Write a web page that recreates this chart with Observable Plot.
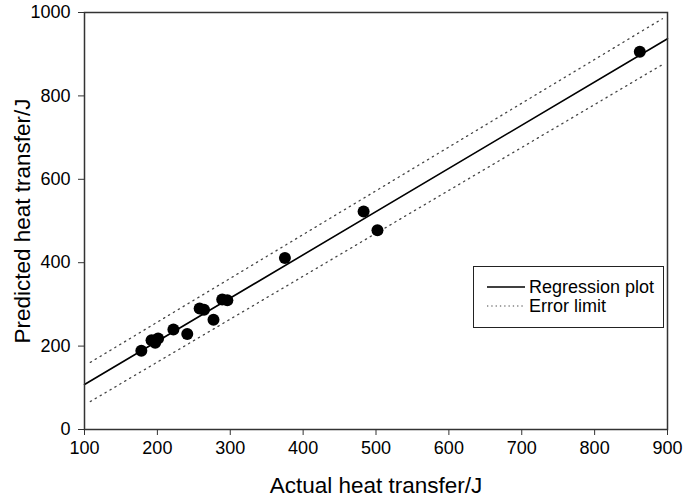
<!DOCTYPE html>
<html><head><meta charset="utf-8">
<script src="https://cdn.jsdelivr.net/npm/d3@7"></script>
<script src="https://cdn.jsdelivr.net/npm/@observablehq/plot@0.6"></script>
<style>
body{margin:0;background:#fff;font-family:"Liberation Sans",Arial,sans-serif;}
#wrap{position:relative;width:685px;height:503px;}
#legend{position:absolute;left:473px;top:266px;width:191px;height:62px;border:1.5px solid #222;box-sizing:border-box;background:#fff;}
#legend .row{position:absolute;left:0;height:20px;display:flex;align-items:center;font-size:18px;color:#000;}
#legend svg{margin-left:13px;margin-right:4px;}
</style></head>
<body><div id="wrap"><div id="legend"></div></div>
<script>
const actual    = [178, 192, 197, 201, 222, 241, 258, 264, 277, 289, 296, 375, 483, 502, 862];
const predicted = [189, 214, 208, 218, 240, 229, 290, 287, 263, 312, 310, 411, 523, 478, 906];
const regX = [100, 900], regY = [108, 937];
const upX = [108, 893], upY = [161, 985];
const lowX = [108, 893], lowY = [67, 875];
const xTicks = [100, 200, 300, 400, 500, 600, 700, 800, 900];
const yTicks = [0, 200, 400, 600, 800, 1000];
const xTitle = "Actual heat transfer/J";
const yTitle = "Predicted heat transfer/J";
const legendLabels = ["Regression plot", "Error limit"];

const pts = actual.map((a, i) => ({a, p: predicted[i]}));
const toXY = (xs, ys) => xs.map((x, i) => ({x, y: ys[i]}));

const chart = Plot.plot({
  width: 685, height: 503,
  marginLeft: 84, marginRight: 18, marginTop: 12, marginBottom: 74,
  style: {fontFamily: '"Liberation Sans", Arial, sans-serif', fontSize: "18px", color: "#000", background: "#fff"},
  x: {domain: [100, 900]},
  y: {domain: [0, 1000]},
  marks: [
    Plot.axisX({ticks: xTicks, tickSize: 6, tickPadding: 6, label: null, fontSize: 18, tickFormat: d => String(d), stroke: "#333"}),
    Plot.axisY({ticks: yTicks, tickSize: 6, tickPadding: 8, label: null, fontSize: 18, tickFormat: d => String(d), stroke: "#333"}),
    Plot.line(toXY(upX, upY), {x: "x", y: "y", stroke: "#444", strokeWidth: 1.3, strokeDasharray: "1.3,4.4"}),
    Plot.line(toXY(lowX, lowY), {x: "x", y: "y", stroke: "#444", strokeWidth: 1.3, strokeDasharray: "1.3,4.4"}),
    Plot.line(toXY(regX, regY), {x: "x", y: "y", stroke: "#000", strokeWidth: 1.6}),
    Plot.dot(pts, {x: "a", y: "p", r: 6, fill: "#000", stroke: null}),
    Plot.frame({stroke: "#333", strokeWidth: 1.5}),
    Plot.text([xTitle], {frameAnchor: "bottom", dy: 63, fontSize: 22.5, fill: "#000", textAnchor: "middle"}),
    Plot.text([yTitle], {frameAnchor: "left", dx: -62, rotate: -90, fontSize: 22.5, fill: "#000", textAnchor: "middle"})
  ]
});
document.getElementById("wrap").prepend(chart);

const leg = document.getElementById("legend");
const styles = [{dash: null, color: "#000", w: 1.6}, {dash: "1.3,3", color: "#444", w: 1.2}];
legendLabels.forEach((lab, i) => {
  const row = document.createElement("div");
  row.className = "row";
  row.style.top = (10 + i * 19) + "px";
  const s = styles[i];
  row.innerHTML = `<svg width="38" height="10"><line x1="0" x2="38" y1="5" y2="5" stroke="${s.color}" stroke-width="${s.w}" ${s.dash ? `stroke-dasharray="${s.dash}"` : ""}/></svg><span>${lab}</span>`;
  leg.appendChild(row);
});
</script>
</body></html>
